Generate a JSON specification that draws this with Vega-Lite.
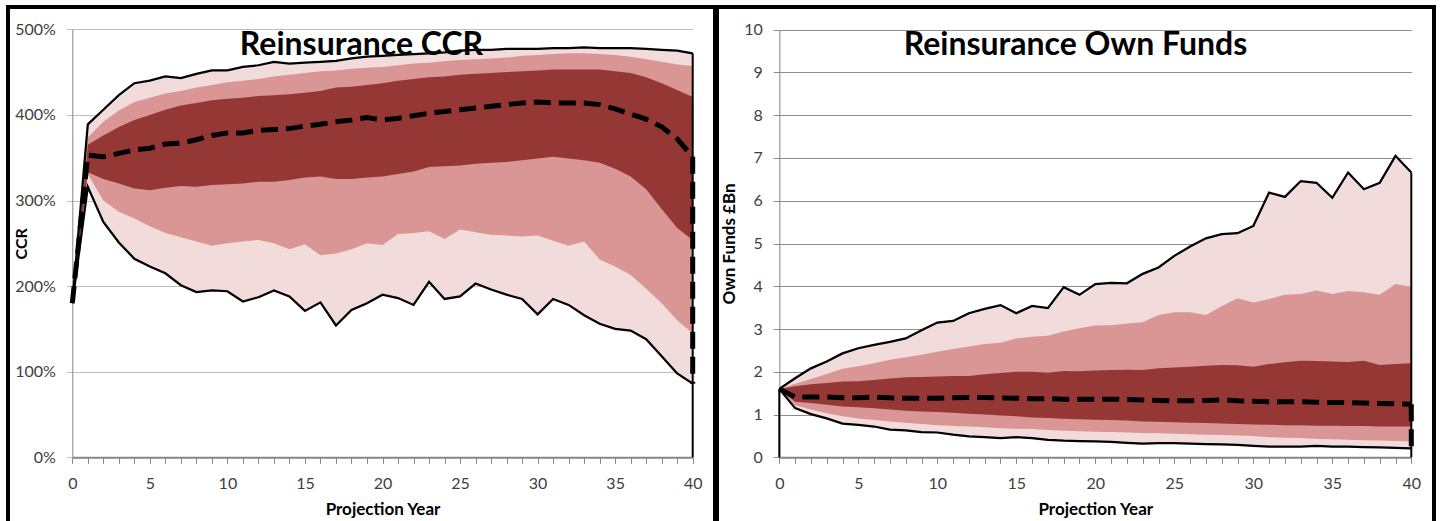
{
  "$schema": "https://vega.github.io/schema/vega-lite/v6.json",
  "background": "white",
  "padding": {"left": 6, "top": 5, "right": 0, "bottom": 0},
  "spacing": -4,
  "datasets": {
    "ccr": [
      {"t":0,"mn":180,"lo2":180,"lo1":180,"med":180,"hi1":180,"hi2":180,"mx":180},
      {"t":1,"mn":316,"lo2":331,"lo1":333,"med":353,"hi1":365,"hi2":374,"mx":389},
      {"t":2,"mn":275,"lo2":300,"lo1":325,"med":351,"hi1":376,"hi2":392,"mx":406},
      {"t":3,"mn":251,"lo2":287,"lo1":320,"med":355,"hi1":386,"hi2":405,"mx":423},
      {"t":4,"mn":232,"lo2":279,"lo1":314,"med":359,"hi1":394,"hi2":415,"mx":437},
      {"t":5,"mn":223,"lo2":270,"lo1":312,"med":361,"hi1":400,"hi2":420,"mx":440},
      {"t":6,"mn":215,"lo2":262,"lo1":315,"med":366,"hi1":406,"hi2":425,"mx":445},
      {"t":7,"mn":201,"lo2":257,"lo1":317,"med":367,"hi1":411,"hi2":428,"mx":443},
      {"t":8,"mn":193,"lo2":252,"lo1":316,"med":371,"hi1":414,"hi2":432,"mx":448},
      {"t":9,"mn":195,"lo2":247,"lo1":318,"med":376,"hi1":417,"hi2":435,"mx":452},
      {"t":10,"mn":194,"lo2":250,"lo1":319,"med":379,"hi1":419,"hi2":438,"mx":452},
      {"t":11,"mn":182,"lo2":252,"lo1":320,"med":379,"hi1":420,"hi2":440,"mx":456},
      {"t":12,"mn":187,"lo2":254,"lo1":322,"med":382,"hi1":422,"hi2":442,"mx":458},
      {"t":13,"mn":195,"lo2":250,"lo1":322,"med":383,"hi1":423,"hi2":445,"mx":462},
      {"t":14,"mn":188,"lo2":243,"lo1":324,"med":384,"hi1":424,"hi2":447,"mx":460},
      {"t":15,"mn":171,"lo2":249,"lo1":327,"med":387,"hi1":426,"hi2":449,"mx":461},
      {"t":16,"mn":181,"lo2":236,"lo1":328,"med":389,"hi1":428,"hi2":451,"mx":462},
      {"t":17,"mn":154,"lo2":238,"lo1":325,"med":392,"hi1":432,"hi2":452,"mx":463},
      {"t":18,"mn":172,"lo2":243,"lo1":325,"med":394,"hi1":433,"hi2":454,"mx":466},
      {"t":19,"mn":180,"lo2":250,"lo1":327,"med":397,"hi1":435,"hi2":455,"mx":468},
      {"t":20,"mn":190,"lo2":248,"lo1":328,"med":394,"hi1":437,"hi2":456,"mx":469},
      {"t":21,"mn":186,"lo2":261,"lo1":331,"med":396,"hi1":440,"hi2":458,"mx":470},
      {"t":22,"mn":178,"lo2":262,"lo1":334,"med":399,"hi1":442,"hi2":460,"mx":471},
      {"t":23,"mn":205,"lo2":264,"lo1":339,"med":402,"hi1":444,"hi2":461,"mx":472},
      {"t":24,"mn":185,"lo2":255,"lo1":340,"med":404,"hi1":445,"hi2":463,"mx":473},
      {"t":25,"mn":188,"lo2":266,"lo1":341,"med":406,"hi1":447,"hi2":464,"mx":475},
      {"t":26,"mn":203,"lo2":263,"lo1":343,"med":408,"hi1":448,"hi2":465,"mx":476},
      {"t":27,"mn":196,"lo2":260,"lo1":344,"med":410,"hi1":449,"hi2":466,"mx":476},
      {"t":28,"mn":190,"lo2":259,"lo1":345,"med":412,"hi1":450,"hi2":467,"mx":477},
      {"t":29,"mn":185,"lo2":258,"lo1":347,"med":414,"hi1":451,"hi2":469,"mx":477},
      {"t":30,"mn":167,"lo2":259,"lo1":349,"med":415,"hi1":452,"hi2":470,"mx":477},
      {"t":31,"mn":185,"lo2":253,"lo1":351,"med":414,"hi1":453,"hi2":471,"mx":478},
      {"t":32,"mn":178,"lo2":247,"lo1":349,"med":414,"hi1":453,"hi2":472,"mx":478},
      {"t":33,"mn":166,"lo2":252,"lo1":347,"med":414,"hi1":453,"hi2":472,"mx":479},
      {"t":34,"mn":156,"lo2":231,"lo1":344,"med":412,"hi1":453,"hi2":471,"mx":478},
      {"t":35,"mn":150,"lo2":223,"lo1":337,"med":407,"hi1":451,"hi2":470,"mx":478},
      {"t":36,"mn":148,"lo2":213,"lo1":328,"med":401,"hi1":449,"hi2":468,"mx":478},
      {"t":37,"mn":138,"lo2":197,"lo1":313,"med":395,"hi1":444,"hi2":465,"mx":477},
      {"t":38,"mn":118,"lo2":180,"lo1":290,"med":386,"hi1":437,"hi2":462,"mx":476},
      {"t":39,"mn":98,"lo2":160,"lo1":268,"med":372,"hi1":429,"hi2":459,"mx":475},
      {"t":40,"mn":86,"lo2":145,"lo1":254,"med":351,"hi1":421,"hi2":457,"mx":472}
    ],
    "of": [
      {"t":0,"mn":1.6,"lo2":1.6,"lo1":1.6,"med":1.6,"hi1":1.6,"hi2":1.6,"mx":1.6},
      {"t":1,"mn":1.15,"lo2":1.22,"lo1":1.30,"med":1.41,"hi1":1.66,"hi2":1.72,"mx":1.85},
      {"t":2,"mn":1.01,"lo2":1.12,"lo1":1.27,"med":1.41,"hi1":1.71,"hi2":1.83,"mx":2.08},
      {"t":3,"mn":0.91,"lo2":1.03,"lo1":1.23,"med":1.41,"hi1":1.74,"hi2":1.95,"mx":2.24},
      {"t":4,"mn":0.79,"lo2":0.96,"lo1":1.19,"med":1.39,"hi1":1.77,"hi2":2.07,"mx":2.43},
      {"t":5,"mn":0.76,"lo2":0.91,"lo1":1.17,"med":1.39,"hi1":1.78,"hi2":2.13,"mx":2.55},
      {"t":6,"mn":0.72,"lo2":0.87,"lo1":1.15,"med":1.41,"hi1":1.81,"hi2":2.20,"mx":2.63},
      {"t":7,"mn":0.65,"lo2":0.84,"lo1":1.12,"med":1.39,"hi1":1.84,"hi2":2.28,"mx":2.70},
      {"t":8,"mn":0.63,"lo2":0.81,"lo1":1.09,"med":1.38,"hi1":1.87,"hi2":2.34,"mx":2.78},
      {"t":9,"mn":0.59,"lo2":0.78,"lo1":1.07,"med":1.38,"hi1":1.88,"hi2":2.40,"mx":2.97},
      {"t":10,"mn":0.58,"lo2":0.75,"lo1":1.06,"med":1.38,"hi1":1.89,"hi2":2.47,"mx":3.15},
      {"t":11,"mn":0.53,"lo2":0.73,"lo1":1.04,"med":1.39,"hi1":1.90,"hi2":2.53,"mx":3.19},
      {"t":12,"mn":0.49,"lo2":0.72,"lo1":1.02,"med":1.40,"hi1":1.90,"hi2":2.59,"mx":3.37},
      {"t":13,"mn":0.47,"lo2":0.70,"lo1":1.00,"med":1.40,"hi1":1.94,"hi2":2.65,"mx":3.47},
      {"t":14,"mn":0.45,"lo2":0.68,"lo1":0.98,"med":1.39,"hi1":1.97,"hi2":2.68,"mx":3.56},
      {"t":15,"mn":0.47,"lo2":0.67,"lo1":0.96,"med":1.38,"hi1":2.00,"hi2":2.78,"mx":3.37},
      {"t":16,"mn":0.45,"lo2":0.66,"lo1":0.93,"med":1.37,"hi1":2.00,"hi2":2.82,"mx":3.54},
      {"t":17,"mn":0.41,"lo2":0.64,"lo1":0.92,"med":1.37,"hi1":1.98,"hi2":2.84,"mx":3.49},
      {"t":18,"mn":0.39,"lo2":0.62,"lo1":0.90,"med":1.36,"hi1":2.02,"hi2":2.94,"mx":3.98},
      {"t":19,"mn":0.38,"lo2":0.61,"lo1":0.89,"med":1.36,"hi1":2.01,"hi2":3.02,"mx":3.80},
      {"t":20,"mn":0.37,"lo2":0.60,"lo1":0.88,"med":1.36,"hi1":2.03,"hi2":3.08,"mx":4.05},
      {"t":21,"mn":0.36,"lo2":0.59,"lo1":0.87,"med":1.36,"hi1":2.04,"hi2":3.09,"mx":4.08},
      {"t":22,"mn":0.34,"lo2":0.58,"lo1":0.86,"med":1.35,"hi1":2.05,"hi2":3.13,"mx":4.07},
      {"t":23,"mn":0.32,"lo2":0.57,"lo1":0.84,"med":1.34,"hi1":2.04,"hi2":3.16,"mx":4.29},
      {"t":24,"mn":0.33,"lo2":0.56,"lo1":0.83,"med":1.33,"hi1":2.08,"hi2":3.33,"mx":4.44},
      {"t":25,"mn":0.33,"lo2":0.55,"lo1":0.82,"med":1.32,"hi1":2.10,"hi2":3.39,"mx":4.71},
      {"t":26,"mn":0.32,"lo2":0.54,"lo1":0.81,"med":1.32,"hi1":2.12,"hi2":3.39,"mx":4.93},
      {"t":27,"mn":0.31,"lo2":0.53,"lo1":0.80,"med":1.33,"hi1":2.14,"hi2":3.33,"mx":5.12},
      {"t":28,"mn":0.30,"lo2":0.52,"lo1":0.79,"med":1.34,"hi1":2.16,"hi2":3.53,"mx":5.22},
      {"t":29,"mn":0.29,"lo2":0.51,"lo1":0.78,"med":1.32,"hi1":2.15,"hi2":3.72,"mx":5.24},
      {"t":30,"mn":0.27,"lo2":0.50,"lo1":0.77,"med":1.31,"hi1":2.12,"hi2":3.62,"mx":5.41},
      {"t":31,"mn":0.25,"lo2":0.47,"lo1":0.76,"med":1.30,"hi1":2.18,"hi2":3.70,"mx":6.19},
      {"t":32,"mn":0.25,"lo2":0.46,"lo1":0.75,"med":1.30,"hi1":2.22,"hi2":3.80,"mx":6.09},
      {"t":33,"mn":0.25,"lo2":0.45,"lo1":0.75,"med":1.30,"hi1":2.26,"hi2":3.82,"mx":6.46},
      {"t":34,"mn":0.27,"lo2":0.43,"lo1":0.74,"med":1.29,"hi1":2.25,"hi2":3.90,"mx":6.42},
      {"t":35,"mn":0.25,"lo2":0.42,"lo1":0.74,"med":1.28,"hi1":2.24,"hi2":3.82,"mx":6.07},
      {"t":36,"mn":0.25,"lo2":0.41,"lo1":0.73,"med":1.28,"hi1":2.23,"hi2":3.89,"mx":6.66},
      {"t":37,"mn":0.24,"lo2":0.40,"lo1":0.73,"med":1.27,"hi1":2.26,"hi2":3.86,"mx":6.27},
      {"t":38,"mn":0.23,"lo2":0.39,"lo1":0.72,"med":1.26,"hi1":2.16,"hi2":3.80,"mx":6.42},
      {"t":39,"mn":0.22,"lo2":0.38,"lo1":0.72,"med":1.25,"hi1":2.18,"hi2":4.05,"mx":7.05},
      {"t":40,"mn":0.21,"lo2":0.37,"lo1":0.72,"med":1.24,"hi1":2.20,"hi2":3.99,"mx":6.66}
    ]
  },
  "hconcat": [
    {
      "width": 707,
      "height": 520,
      "title": {"text": "Reinsurance CCR", "offset": -80, "fontSize": 32, "fontWeight": "bold", "font": "Lato", "color": "#000000", "anchor": "middle", "frame": "group", "baseline": "alphabetic"},
      "data": {"name": "ccr"},
      "encoding": {
        "x": {
          "field": "t", "type": "quantitative",
          "scale": {"domain": [0, 40], "range": [64.3, 684.7], "nice": false, "zero": false},
          "axis": {"title": "Projection Year", "values": [0,1,2,3,4,5,6,7,8,9,10,11,12,13,14,15,16,17,18,19,20,21,22,23,24,25,26,27,28,29,30,31,32,33,34,35,36,37,38,39,40],
            "labelExpr": "datum.value % 5 === 0 ? datum.label : ''", "offset": -69.7, "grid": false,
            "domainColor": "#868686", "domainWidth": 2, "tickColor": "#868686", "tickSize": 6, "tickWidth": 1,
            "labelFontSize": 16, "labelColor": "#404040", "labelPadding": 12, "labelFlush": false, "labelOverlap": false,
            "titleFontSize": 17, "titleFontWeight": "bold", "titleColor": "#000000", "titlePadding": 10}
        }
      },
      "layer": [
        {
          "mark": {"type": "area", "color": "#F2DCDB"},
          "encoding": {
            "y": {"field": "mn", "type": "quantitative",
              "scale": {"domain": [0, 500], "range": [450.3, 22.3], "nice": false, "zero": false},
              "axis": {"title": "CCR", "values": [0,100,200,300,400,500], "labelExpr": "datum.value + '%'", "offset": -64.3,
                "grid": true, "gridColor": "#BFBFBF", "domainColor": "#868686", "domainWidth": 1, "tickColor": "#BFBFBF", "tickSize": 6,
                "labelFontSize": 16, "labelColor": "#404040", "labelPadding": 11,
                "titleFontSize": 16, "titleFontWeight": "bold", "titleColor": "#000000", "titlePadding": -15}},
            "y2": {"field": "mx"}
          }
        },
        {"mark": {"type": "area", "color": "#D99694"}, "encoding": {"y": {"field": "lo2", "type": "quantitative"}, "y2": {"field": "hi2"}}},
        {"mark": {"type": "area", "color": "#953735"}, "encoding": {"y": {"field": "lo1", "type": "quantitative"}, "y2": {"field": "hi1"}}},
        {"transform": [{"filter": "datum.t === 40"}], "mark": {"type": "rule", "color": "#000000", "strokeWidth": 2}, "encoding": {"y": {"field": "mx", "type": "quantitative"}, "y2": {"datum": 0}}},
        {"transform": [{"filter": "datum.t === 40"}], "mark": {"type": "rule", "color": "#000000", "strokeWidth": 5, "strokeDash": [17, 8]}, "encoding": {"y": {"field": "med", "type": "quantitative"}, "y2": {"field": "mn"}}},
        {"mark": {"type": "line", "color": "#000000", "strokeWidth": 2.25}, "encoding": {"y": {"field": "mx", "type": "quantitative"}}},
        {"mark": {"type": "line", "color": "#000000", "strokeWidth": 2.25}, "encoding": {"y": {"field": "mn", "type": "quantitative"}}},
        {"mark": {"type": "line", "color": "#000000", "strokeWidth": 5, "strokeDash": [17, 8]}, "encoding": {"y": {"field": "med", "type": "quantitative"}}}
      ]
    },
    {
      "width": 717,
      "height": 520,
      "title": {"text": "Reinsurance Own Funds", "offset": -80, "fontSize": 32, "fontWeight": "bold", "font": "Lato", "color": "#000000", "anchor": "middle", "frame": "group", "baseline": "alphabetic"},
      "data": {"name": "of"},
      "encoding": {
        "x": {
          "field": "t", "type": "quantitative",
          "scale": {"domain": [0, 40], "range": [62.3, 694.3], "nice": false, "zero": false},
          "axis": {"title": "Projection Year", "values": [0,1,2,3,4,5,6,7,8,9,10,11,12,13,14,15,16,17,18,19,20,21,22,23,24,25,26,27,28,29,30,31,32,33,34,35,36,37,38,39,40],
            "labelExpr": "datum.value % 5 === 0 ? datum.label : ''", "offset": -69.7, "grid": false,
            "domainColor": "#868686", "domainWidth": 2, "tickColor": "#868686", "tickSize": 6, "tickWidth": 1,
            "labelFontSize": 16, "labelColor": "#404040", "labelPadding": 12, "labelFlush": false, "labelOverlap": false,
            "titleFontSize": 17, "titleFontWeight": "bold", "titleColor": "#000000", "titlePadding": 10}
        }
      },
      "layer": [
        {
          "mark": {"type": "area", "color": "#F2DCDB"},
          "encoding": {
            "y": {"field": "mn", "type": "quantitative",
              "scale": {"domain": [0, 10], "range": [450.3, 22.7], "nice": false, "zero": false},
              "axis": {"title": "Own Funds £Bn", "values": [0,1,2,3,4,5,6,7,8,9,10], "offset": -62.3,
                "grid": true, "gridColor": "#8C8C8C", "domainColor": "#868686", "domainWidth": 1, "tickColor": "#8C8C8C", "tickSize": 6,
                "labelFontSize": 16, "labelColor": "#404040", "labelPadding": 11,
                "titleFontSize": 17, "titleFontWeight": "bold", "titleColor": "#000000", "titlePadding": 5}},
            "y2": {"field": "mx"}
          }
        },
        {"mark": {"type": "area", "color": "#D99694"}, "encoding": {"y": {"field": "lo2", "type": "quantitative"}, "y2": {"field": "hi2"}}},
        {"mark": {"type": "area", "color": "#953735"}, "encoding": {"y": {"field": "lo1", "type": "quantitative"}, "y2": {"field": "hi1"}}},
        {"transform": [{"filter": "datum.t === 40 || datum.t === 0"}], "mark": {"type": "rule", "color": "#000000", "strokeWidth": 2}, "encoding": {"y": {"field": "mx", "type": "quantitative"}, "y2": {"datum": 0}}},
        {"transform": [{"filter": "datum.t === 40"}], "mark": {"type": "rule", "color": "#000000", "strokeWidth": 5, "strokeDash": [17, 8]}, "encoding": {"y": {"field": "med", "type": "quantitative"}, "y2": {"field": "mn"}}},
        {"mark": {"type": "line", "color": "#000000", "strokeWidth": 2.25}, "encoding": {"y": {"field": "mx", "type": "quantitative"}}},
        {"mark": {"type": "line", "color": "#000000", "strokeWidth": 2.25}, "encoding": {"y": {"field": "mn", "type": "quantitative"}}},
        {"mark": {"type": "line", "color": "#000000", "strokeWidth": 5, "strokeDash": [17, 8]}, "encoding": {"y": {"field": "med", "type": "quantitative"}}}
      ]
    }
  ],
  "config": {
    "font": "Lato",
    "view": {"stroke": "#000000", "strokeWidth": 4},
    "axis": {"labelFont": "Lato", "titleFont": "Lato"}
  }
}
